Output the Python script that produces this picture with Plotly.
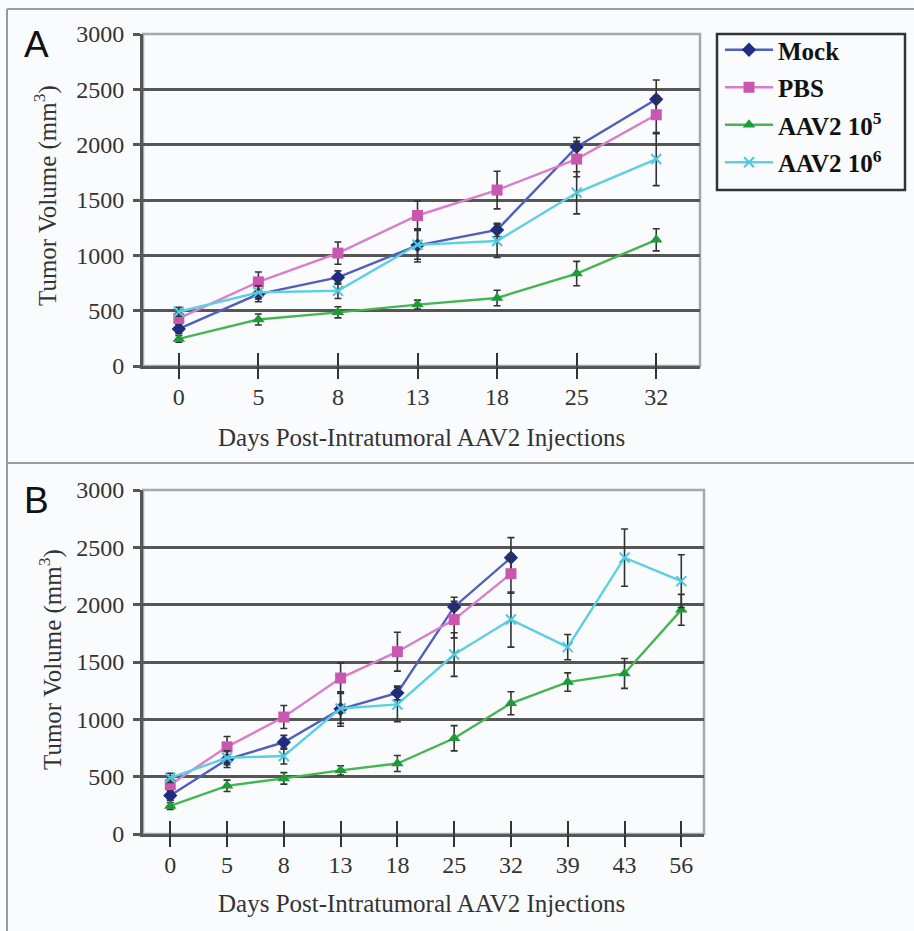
import plotly.graph_objects as go

# ---------------- data ----------------
days_A = ["0", "5", "8", "13", "18", "25", "32"]
days_B = ["0", "5", "8", "13", "18", "25", "32", "39", "43", "56"]

mock = [335, 650, 800, 1090, 1230, 1980, 2410]
mock_err = [40, 70, 60, 150, 60, 85, 175]
pbs = [430, 760, 1020, 1360, 1590, 1870, 2270]
pbs_err = [50, 90, 100, 130, 170, 160, 170]
aav5 = [245, 420, 485, 555, 615, 835, 1140, 1325, 1400, 1955]
aav5_err = [30, 50, 50, 40, 70, 110, 100, 80, 130, 135]
aav6 = [490, 665, 680, 1095, 1130, 1565, 1870, 1630, 2410, 2205]
aav6_err = [40, 60, 70, 130, 150, 190, 240, 110, 250, 230]

y_ticks = [0, 500, 1000, 1500, 2000, 2500, 3000]

W, H = 914, 931
BG = "#FAFBFD"
GRID = "#565656"
SERIF = "Liberation Serif, Times New Roman, serif"

series = [
    dict(name="Mock", y=mock, e=mock_err, line="#4F5FBA", mk="#1F2C86", sym="diamond", size=11),
    dict(name="PBS", y=pbs, e=pbs_err, line="#D77FCB", mk="#C957AF", sym="square", size=11),
    dict(name="AAV2 10<sup>5</sup>", y=aav5, e=aav5_err, line="#45B553", mk="#1E9B39", sym="triangle-up", size=11),
    dict(name="AAV2 10<sup>6</sup>", y=aav6, e=aav6_err, line="#5CCFE2", mk="#4CC7DD", sym="x-thin", size=10),
]

fig = go.Figure()

def add_panel(days, xa, ya, show_legend):
    n = len(days)
    for i, s in enumerate(series):
        yv = s["y"][:n]
        ev = s["e"][:n]
        m = min(len(yv), n)
        fig.add_trace(go.Scatter(
            x=days[:m], y=yv[:m], name=s["name"], mode="lines+markers",
            xaxis=xa, yaxis=ya, showlegend=show_legend, legendgroup=f"g{i}",
            line=dict(color=s["line"], width=2.4),
            marker=dict(symbol=s["sym"], size=s["size"], color=s["mk"],
                        line=dict(color=s["mk"], width=2 if s["sym"] == "x-thin" else 0)),
            error_y=dict(type="data", array=ev[:m], visible=True, color="#333333",
                         thickness=1.6, width=3.5),
        ))

add_panel(days_A, "x", "y", True)
add_panel(days_B, "x2", "y2", False)

# domains (paper fractions)
dA_x = [143 / W, 700 / W]
dA_y = [1 - 366 / H, 1 - 34 / H]
dB_x = [143 / W, 704 / W]
dB_y = [1 - 834 / H, 1 - 490 / H]
rA = [-0.45, 6.55]
rB = [-0.48, 9.40]

xcommon = dict(type="category", showgrid=False, zeroline=False, showline=True, automargin=False,
               linecolor=GRID, linewidth=3, ticks="",
               tickfont=dict(family=SERIF, size=24, color="#333333"),
               ticklabelstandoff=7, fixedrange=True)
ycommon = dict(range=[0, 3000], tickvals=y_ticks, showgrid=True, gridcolor=GRID, gridwidth=2.5,
               zeroline=False, showline=True, linecolor=GRID, linewidth=3, ticks="outside",
               ticklen=7, tickwidth=2.5, tickcolor=GRID, automargin=False,
               tickfont=dict(family=SERIF, size=24, color="#333333"), ticklabelstandoff=4)

def tick_overlay(base, anchor, cats, rng, side_ticks, length):
    return dict(overlaying=base, anchor=anchor, type="category", categoryorder="array",
                categoryarray=cats, range=rng, ticks=side_ticks, ticklen=length, tickwidth=2,
                tickcolor="#333333", automargin=False, showticklabels=False, showgrid=False,
                zeroline=False, showline=False)

fig.update_layout(
    xaxis=dict(domain=dA_x, anchor="y", range=rA, categoryorder="array", categoryarray=days_A, **xcommon),
    yaxis=dict(domain=dA_y, anchor="x", **ycommon),
    xaxis2=dict(domain=dB_x, anchor="y2", range=rB, categoryorder="array", categoryarray=days_B, **xcommon),
    yaxis2=dict(domain=dB_y, anchor="x2", **ycommon),
    # overlay axes drawing the crossing tick marks (inner and outer halves)
    xaxis3=tick_overlay("x", "y", days_A, rA, "inside", 13),
    xaxis4=tick_overlay("x2", "y2", days_B, rB, "inside", 13),
    xaxis5=tick_overlay("x", "y", days_A, rA, "outside", 12),
    xaxis6=tick_overlay("x2", "y2", days_B, rB, "outside", 12),
)
# invisible helper traces so the overlay axes render
for xa, ya, cats in (("x3", "y", days_A), ("x4", "y2", days_B), ("x5", "y", days_A), ("x6", "y2", days_B)):
    fig.add_trace(go.Scatter(x=cats, y=[None] * len(cats), xaxis=xa, yaxis=ya, showlegend=False,
                             hoverinfo="skip", mode="lines"))

shapes = []
# light plot-area frames
for xr, yr in (("x domain", "y domain"), ("x2 domain", "y2 domain")):
    shapes.append(dict(type="rect", xref=xr, yref=yr, x0=0, x1=1, y0=0, y1=1,
                       line=dict(color="#A8A8A8", width=2.5), layer="below"))
# outer panel frame lines
frame = dict(color="#9A9A9A", width=2)
shapes.append(dict(type="line", xref="paper", yref="paper", x0=7 / W, x1=1, y0=1 - 9 / H, y1=1 - 9 / H, line=frame))
shapes.append(dict(type="line", xref="paper", yref="paper", x0=7 / W, x1=1, y0=1 - 463 / H, y1=1 - 463 / H, line=frame))
shapes.append(dict(type="line", xref="paper", yref="paper", x0=7 / W, x1=7 / W, y0=0, y1=1 - 9 / H, line=frame))
# legend box
shapes.append(dict(type="rect", xref="paper", yref="paper", x0=717 / W, x1=905 / W,
                   y0=1 - 190 / H, y1=1 - 34 / H, line=dict(color="#333333", width=2.5)))

annotations = []
for letter, ypx in (("A", 44), ("B", 500)):
    annotations.append(dict(text=letter, xref="paper", yref="paper", x=36 / W, y=1 - ypx / H,
                            showarrow=False, xanchor="center", yanchor="middle",
                            font=dict(family="Liberation Sans, Arial, sans-serif", size=37, color="#111111")))
for xc, ypx in ((421, 437), (421, 903)):
    annotations.append(dict(text="Days Post-Intratumoral AAV2 Injections", xref="paper", yref="paper",
                            x=xc / W, y=1 - ypx / H, showarrow=False, xanchor="center", yanchor="middle",
                            font=dict(family=SERIF, size=25, color="#333333")))
for xc, ypx in ((45, 196), (50, 660)):
    annotations.append(dict(text="Tumor Volume (mm<sup>3</sup>)", xref="paper", yref="paper",
                            x=xc / W, y=1 - ypx / H, showarrow=False, xanchor="center", yanchor="middle",
                            textangle=-90, font=dict(family=SERIF, size=25, color="#333333")))

fig.update_layout(
    width=W, height=H, margin=dict(l=0, r=0, t=0, b=0, autoexpand=False),
    paper_bgcolor=BG, plot_bgcolor=BG,
    shapes=shapes, annotations=annotations,
    showlegend=True,
    legend=dict(x=720 / W, y=1 - 27 / H, xanchor="left", yanchor="top",
                bgcolor="rgba(0,0,0,0)", borderwidth=0,
                font=dict(family=SERIF, size=25, color="#111111", weight="bold"),
                tracegroupgap=2, itemwidth=48,
                traceorder="grouped"),
)

fig.write_html("out.html", config={"displayModeBar": False},
               post_script="document.body.style.margin='0';document.body.style.overflow='hidden';")
